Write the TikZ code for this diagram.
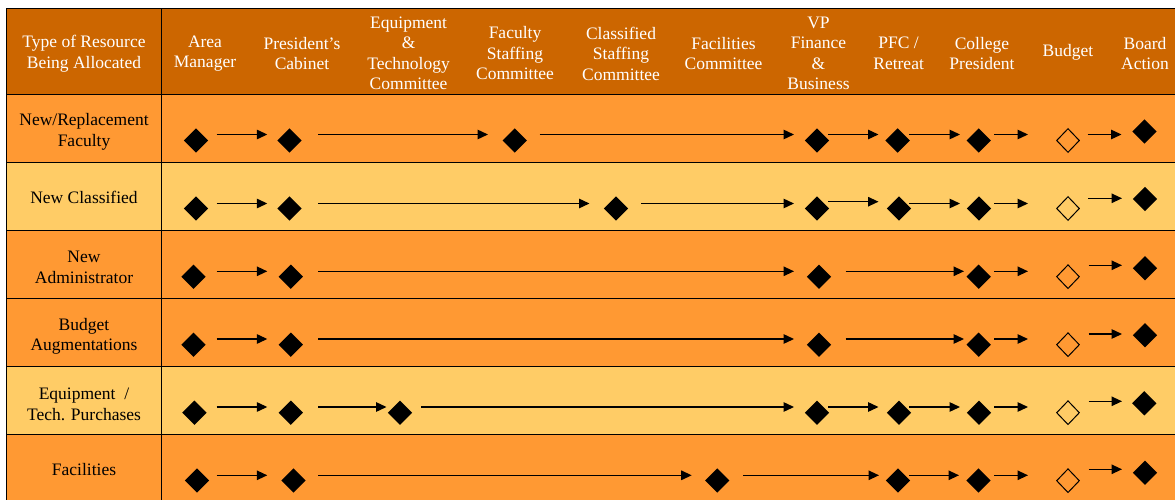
\documentclass[tikz,border=0pt]{standalone}
\usepackage{fontspec}
\setmainfont{Liberation Serif}
\usetikzlibrary{shapes.geometric,arrows.meta}
\definecolor{hdr}{HTML}{CC6600}
\definecolor{darkrow}{HTML}{FF9933}
\definecolor{lightrow}{HTML}{FFCC66}
\begin{document}
\begin{tikzpicture}[x=1pt,y=-1pt,
  hdrtext/.style={text=white, align=center, inner sep=0pt, font=\fontsize{17.5}{20.5}\selectfont},
  rowtext/.style={text=black, align=center, inner sep=0pt, font=\fontsize{17.5}{20.5}\selectfont},
  dia/.style={diamond, fill=black, draw=none, minimum width=24.5pt, minimum height=24.5pt, inner sep=0pt},
  hdia/.style={diamond, draw=black, fill=none, line width=1pt, minimum width=23pt, minimum height=24pt, inner sep=0pt},
  flow/.style={line width=1.3pt, -{Triangle[length=10.5pt,width=9.5pt]}},
  grid/.style={draw=black, line width=0.9pt}]
\useasboundingbox (0,0) rectangle (1175,500);
\clip (0,0) rectangle (1175,500);
\fill[white] (0,0) rectangle (1175,500);
% backgrounds
\fill[hdr] (6,8.3) rectangle (1180,94.5);
\fill[darkrow] (6,94.5) rectangle (1180,162);
\fill[lightrow] (6,162) rectangle (1180,230);
\fill[darkrow] (6,230) rectangle (1180,366.5);
\fill[lightrow] (6,366.5) rectangle (1180,434.5);
\fill[darkrow] (6,434.5) rectangle (1180,505);
% grid lines
\draw[grid] (6,505) -- (6,8.3) -- (1180,8.3);
\draw[grid] (161.7,8.3) -- (161.7,505);
\foreach \y in {94.5,162,230,298,366.5,434.5} \draw[grid] (6,\y) -- (1180,\y);
% header
\node[hdrtext] (h0) at (84,53.5) {Type of Resource\\Being Allocated};
\node[hdrtext] (h1) at (205,53.5) {Area\\Manager};
\node[hdrtext] (h2) at (302,53.5) {President’s\\Cabinet};
\node[hdrtext] (h3) at (408.6,53.5) {Equipment\\\&\\Technology\\Committee};
\node[hdrtext] (h4) at (515,53.5) {Faculty\\Staffing\\Committee};
\node[hdrtext] (h5) at (621,53.5) {Classified\\Staffing\\Committee};
\node[hdrtext] (h6) at (723.5,53.5) {Facilities\\Committee};
\node[hdrtext] (h7) at (818.5,53.5) {VP\\Finance\\\&\\Business};
\node[hdrtext] (h8) at (898.6,53.5) {PFC /\\Retreat};
\node[hdrtext] (h9) at (982,53.5) {College\\President};
\node[hdrtext] (h10) at (1068,52) {Budget};
\node[hdrtext] (h11) at (1145,53.5) {Board\\Action};
% row labels
\node[rowtext] (l1) at (84,132) {New/Replacement\\Faculty};
\node[rowtext] (l2) at (84,197) {New Classified};
\node[rowtext] (l3) at (84,267.5) {New\\Administrator};
\node[rowtext] (l4) at (84,336.5) {Budget\\Augmentations};
\node[rowtext] (l5) at (84,404.5) {Equipment\ \ /\\Tech. Purchases};
\node[rowtext] (l6) at (84,470) {Facilities};
% row 1
\foreach \n/\x in {r1a/196,r1b/289.5,r1c/514.7,r1d/817,r1e/897.6,r1f/978.7} \node[dia] (\n) at (\x,140.5) {};
\node[hdia] (r1g) at (1068,140.5) {};
\node[dia] (r1h) at (1144.5,131.5) {};
\foreach \n/\a/\b in {r1p/216.7/267.3,r1q/318.4/488,r1r/539.6/794,r1s/828/878.5,r1t/909/960,r1u/994/1028,r1v/1087.5/1121.5}
  {\coordinate (\n-s) at (\a,134.5); \coordinate (\n-e) at (\b,134.5); \draw[flow] (\n-s) -- (\n-e);}
% row 2
\foreach \n/\x in {r2a/196,r2b/289.5,r2c/616,r2d/817,r2e/899,r2f/979} \node[dia] (\n) at (\x,208.5) {};
\node[hdia] (r2g) at (1068,208.5) {};
\node[dia] (r2h) at (1145,199) {};
\foreach \n/\a/\b/\y in {r2p/216.7/267.3/203.5,r2q/318.4/589.5/203.5,r2r/641/794/203.5,r2s/828/878.5/201.7,r2t/909/960/203.5,r2u/994/1028/203.5,r2v/1088/1122/198.3}
  {\coordinate (\n-s) at (\a,\y); \coordinate (\n-e) at (\b,\y); \draw[flow] (\n-s) -- (\n-e);}
% row 3
\foreach \n/\x in {r3a/193.5,r3b/290.8,r3c/819,r3d/978.7} \node[dia] (\n) at (\x,276.7) {};
\node[hdia] (r3g) at (1068,276.7) {};
\node[dia] (r3h) at (1145,268.3) {};
\foreach \n/\a/\b/\y in {r3p/216.7/267.3/271.3,r3q/318.4/794/271.3,r3r/845.6/964/271.3,r3s/994/1028/271.3,r3v/1088.6/1122/265.3}
  {\coordinate (\n-s) at (\a,\y); \coordinate (\n-e) at (\b,\y); \draw[flow] (\n-s) -- (\n-e);}
% row 4
\foreach \n/\x in {r4a/193.5,r4b/290.8,r4c/819,r4d/978.7} \node[dia] (\n) at (\x,344.7) {};
\node[hdia] (r4g) at (1068,344.7) {};
\node[dia] (r4h) at (1145,335.3) {};
\foreach \n/\a/\b/\y in {r4p/216.7/267.3/339,r4q/318.4/794/339,r4r/845.6/964/339,r4s/994/1028/339,r4v/1088.6/1122/334}
  {\coordinate (\n-s) at (\a,\y); \coordinate (\n-e) at (\b,\y); \draw[flow] (\n-s) -- (\n-e);}
% row 5
\foreach \n/\x in {r5a/194.4,r5b/290.8,r5c/400,r5d/817,r5e/899,r5f/979} \node[dia] (\n) at (\x,412.7) {};
\node[hdia] (r5g) at (1068,412.7) {};
\node[dia] (r5h) at (1144.3,403.3) {};
\foreach \n/\a/\b/\y in {r5p/216.7/267.3/407,r5q/318.4/386.5/407,r5r/421/794/407,r5s/828/878.5/407,r5t/909/960/407,r5u/994/1028/407,r5v/1088.6/1122/401.3}
  {\coordinate (\n-s) at (\a,\y); \coordinate (\n-e) at (\b,\y); \draw[flow] (\n-s) -- (\n-e);}
% row 6
\foreach \n/\x in {r6a/197,r6b/293.5,r6c/717.3,r6d/898,r6e/978.5} \node[dia] (\n) at (\x,480.5) {};
\node[hdia] (r6g) at (1068,480.7) {};
\node[dia] (r6h) at (1145,472.7) {};
\foreach \n/\a/\b/\y in {r6p/216.7/267.3/475.3,r6q/318.4/691.7/475.3,r6r/743/879/475.3,r6s/909/959/475.3,r6u/994/1028/475.3,r6v/1088.6/1122/469.3}
  {\coordinate (\n-s) at (\a,\y); \coordinate (\n-e) at (\b,\y); \draw[flow] (\n-s) -- (\n-e);}
\end{tikzpicture}
\end{document}
